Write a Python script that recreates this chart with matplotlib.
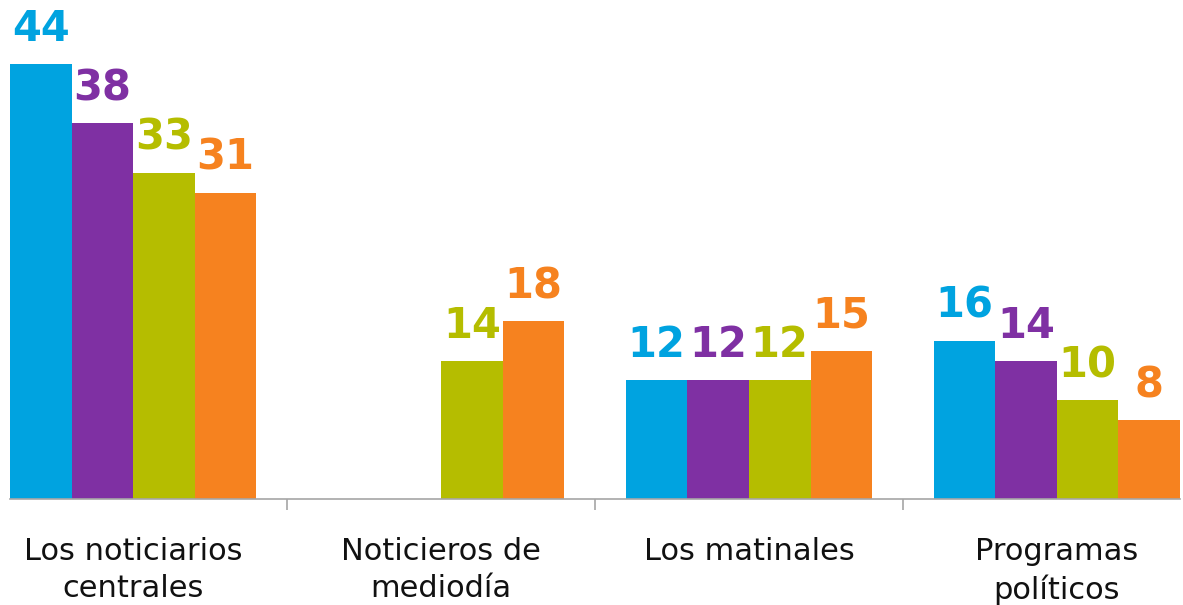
import numpy as np
import matplotlib
matplotlib.use('Agg')
import matplotlib.pyplot as plt

#
# DATA
#
categories = ["Los noticiarios\ncentrales", "Noticieros de\nmediodía",
              "Los matinales", "Programas\npolíticos"]
serie_1 = [44, np.nan, 12, 16]
serie_2 = [38, np.nan, 12, 14]
serie_3 = [33, 14, 12, 10]
serie_4 = [31, 18, 15, 8]
series = [serie_1, serie_2, serie_3, serie_4]
colores = ["#00A3E0", "#7F30A3", "#B5BD00", "#F6821F"]

#
# FIGURE
#
fig = plt.figure(figsize=(11.83, 6.05), dpi=100)
ax = fig.add_axes([10/1183, 106/605, 1170/1183, 499/605])

x = np.arange(len(categories))
w = 0.2
for i, (vals, c) in enumerate(zip(series, colores)):
    pos = x - 0.3 + i*w
    bars = ax.bar(pos, vals, width=w, color=c, linewidth=0)
    labs = ["" if np.isnan(v) else "%d" % v for v in vals]
    ax.bar_label(bars, labels=labs, padding=10, color=c,
                 fontsize=30, fontweight='bold', family='DejaVu Sans')

ax.set_xlim(-0.4, 3.4)
ax.set_ylim(0, 499/9.886)

for s in ['top', 'right', 'left']:
    ax.spines[s].set_visible(False)
ax.spines['bottom'].set_color('#a6a6a6')
ax.spines['bottom'].set_linewidth(1.2)
ax.set_yticks([])

ax.set_xticks(x)
ax.set_xticklabels(categories, fontsize=22, color='#111111', linespacing=1.38)
ax.tick_params(axis='x', which='major', length=0, pad=27)
ax.set_xticks([0.5, 1.5, 2.5], minor=True)
ax.tick_params(axis='x', which='minor', length=8, color='#a6a6a6', width=1.2)

fig.savefig('out.png', dpi=100)
